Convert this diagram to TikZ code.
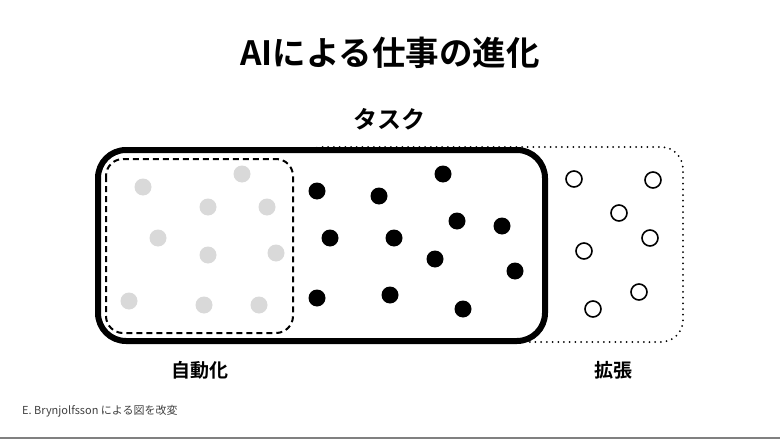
\documentclass[tikz,border=0pt]{standalone}
\usepackage{fontspec}
\setmainfont{Noto Sans CJK JP}[BoldFont={Noto Sans CJK JP Bold}]
\usetikzlibrary{positioning}
\definecolor{lightdot}{HTML}{D9D9D9}
\definecolor{footgray}{HTML}{404040}

\begin{document}
\begin{tikzpicture}[x=1pt, y=-1pt, every node/.style={inner sep=0pt}]
  \useasboundingbox (0,0) rectangle (780,439);

  % headings
  \node[font=\bfseries\fontsize{33.5}{33.5}\selectfont] (title) at (390,53) {AIによる仕事の進化};
  \node[font=\bfseries\fontsize{24}{24}\selectfont] (task) at (389,119) {タスク};

  % augmentation area
  \draw[line width=2pt, line cap=round, dash pattern=on 0pt off 5.7pt, rounded corners=22pt] (300,147) rectangle (683,342);
  % task box
  \draw[line width=6pt, fill=white, rounded corners=28pt] (98,150) rectangle (545,341);
  % automation area
  \draw[line width=2pt, dash pattern=on 6pt off 4pt, rounded corners=17pt] (106,159) rectangle (293,333);

  % dots
  \foreach \x/\y in {143/187, 242/174, 208/207, 267/207, 158/238, 208/255, 276/253, 129/301, 204/305, 259/305}
    \fill[lightdot] (\x,\y) circle (8.5pt);
  \foreach \x/\y in {317/191, 379/196, 443/174, 330/238, 394/238, 457/221, 502/226, 435/259, 515/271, 317/298, 390/295, 463/309}
    \fill (\x,\y) circle (8.5pt);
  \foreach \x/\y in {574/179, 653/180, 619/213, 650/238, 584/251, 639/292, 593/309}
    \draw[line width=1.6pt] (\x,\y) circle (8pt);

  % labels
  \node[font=\bfseries\fontsize{19}{19}\selectfont] (auto) at (200,370) {自動化};
  \node[font=\bfseries\fontsize{19}{19}\selectfont] (aug) at (613,370) {拡張};
  \node[anchor=west, font=\fontsize{11}{11}\selectfont, text=footgray] (src) at (22,411) {E. Brynjolfsson による図を改変};

  \draw[gray, line width=1.5pt] (0,438) -- (780,438);
\end{tikzpicture}
\end{document}
